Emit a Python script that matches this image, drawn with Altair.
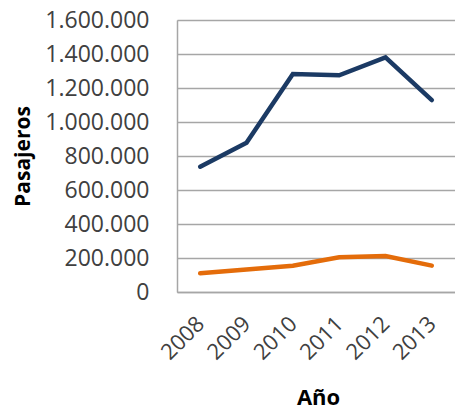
import altair as alt
import pandas as pd

# Passenger counts per year for the two routes
years = ["2008", "2009", "2010", "2011", "2012", "2013"]
serie_a = [737000, 878000, 1282000, 1275000, 1380000, 1129000]
serie_b = [110000, 133000, 155000, 204000, 212000, 155000]
y_ticks = [0, 200000, 400000, 600000, 800000, 1000000, 1200000, 1400000, 1600000]

df = pd.DataFrame(
    {
        "Año": years * 2,
        "Pasajeros": serie_a + serie_b,
        "Serie": ["A"] * len(years) + ["B"] * len(years),
    }
)

FONT = "Open Sans"
TEXT = "#404040"
GRID = "#A6A6A6"

chart = (
    alt.Chart(df)
    .mark_line(strokeWidth=4.5, strokeCap="round", strokeJoin="miter")
    .encode(
        x=alt.X(
            "Año:O",
            scale=alt.Scale(paddingOuter=0.5),
            axis=alt.Axis(
                title="Año",
                labelAngle=-45,
                labelAlign="right",
                labelBaseline="middle",
                labelPadding=28,
                labelFont=FONT,
                labelFontSize=22,
                labelColor=TEXT,
                ticks=False,
                domainColor=GRID,
                domainWidth=1.5,
                titleFont=FONT,
                titleFontSize=22,
                titleFontWeight="bold",
                titleColor="#000000",
                titleX=141,
                titleY=117,
                titleBaseline="bottom",
                titleAlign="center",
            ),
        ),
        y=alt.Y(
            "Pasajeros:Q",
            scale=alt.Scale(domain=[0, 1600000], nice=False),
            axis=alt.Axis(
                title="Pasajeros",
                values=y_ticks,
                labelExpr="replace(format(datum.value, ','), regexp(',', 'g'), '.')",
                labelPadding=28,
                labelFont=FONT,
                labelFontSize=23,
                labelColor=TEXT,
                ticks=False,
                domainColor=GRID,
                domainWidth=1.5,
                gridColor=GRID,
                gridWidth=1.5,
                titleFont=FONT,
                titleFontSize=21,
                titleFontWeight="bold",
                titleColor="#000000",
                titleX=-144,
                titleY=136,
                titleAngle=-90,
                titleBaseline="bottom",
                titleAlign="center",
            ),
        ),
        color=alt.Color(
            "Serie:N",
            scale=alt.Scale(domain=["A", "B"], range=["#1B3A64", "#E46C0A"]),
            legend=None,
        ),
    )
    .properties(
        width=278,
        height=272,
        autosize=alt.AutoSizeParams(type="none"),
        padding={"left": 177, "top": 20, "right": 0, "bottom": 118},
    )
    .configure_view(stroke=None)
    .configure(background="#FFFFFF")
)

chart.save("out.html", embed_options={"renderer": "svg", "actions": False})
